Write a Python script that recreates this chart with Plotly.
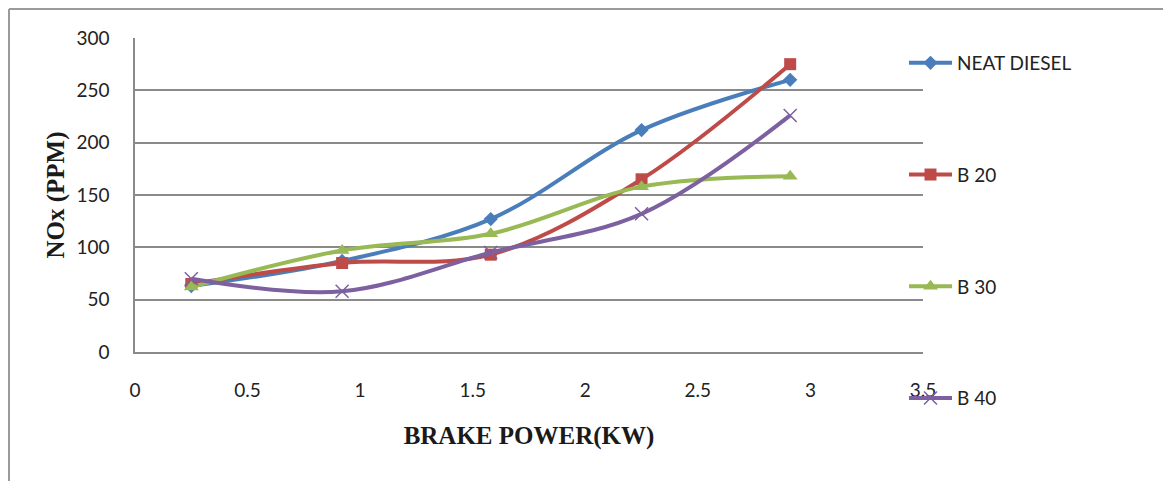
import plotly.graph_objects as go

brake_power = [0.25, 0.92, 1.58, 2.25, 2.91]
neat_diesel = [63, 87, 127, 212, 260]
b20 = [65, 85, 93, 165, 275]
b30 = [62, 97, 113, 158, 168]
b40 = [70, 58, 95, 132, 226]

series = [
    ("NEAT DIESEL", neat_diesel, "#4A7EBB", "diamond", 11),
    ("B 20", b20, "#BE4B48", "square", 12),
    ("B 30", b30, "#98B954", "triangle-up", 13),
    ("B 40", b40, "#7D60A0", "x-thin", 13),
]

fig = go.Figure()
for i, (name, vals, col, sym, sz) in enumerate(series):
    marker = dict(symbol=sym, size=sz, color=col)
    if sym == "x-thin":
        marker["line"] = dict(width=1.5, color=col)
    fig.add_trace(go.Scatter(
        x=brake_power, y=vals, name=name, mode="lines+markers",
        line=dict(color=col, width=4, shape="spline", smoothing=1),
        marker=marker, legendgroup=f"g{i}",
    ))

# page has an 8px body offset: plot area spans page x 135..923, y 38..352
L, T, B, R = 127, 30, 137, 256
PW = 1171 - L - R
PH = 481 - T - B

title_font = dict(family="Liberation Serif", size=25, color="#1a1a1a")

fig.update_layout(
    width=1171, height=481,
    margin=dict(l=L, r=R, t=T, b=B),
    paper_bgcolor="white", plot_bgcolor="white",
    font=dict(family="Lato, Open Sans, sans-serif", size=19, color="#222"),
    showlegend=True,
    legend=dict(x=(904 - 135) / PW, y=0.981, xanchor="left", yanchor="top",
                tracegroupgap=84, font=dict(size=19, color="#222"),
                bgcolor="rgba(0,0,0,0)", maxheight=470, itemwidth=43),
    xaxis=dict(range=[0, 3.5], dtick=0.5, showgrid=False, zeroline=False,
               showline=True, linecolor="#8a8a8a", linewidth=1.5,
               ticks="", ticklabelstandoff=20,
               title=dict(text="<b>BRAKE POWER(KW)</b>", font=title_font, standoff=27)),
    yaxis=dict(range=[0, 300], dtick=50, showgrid=True, gridcolor="#8a8a8a", gridwidth=1.5,
               zeroline=False, showline=True, linecolor="#8a8a8a", linewidth=1.5,
               ticks="", ticklabelstandoff=20,
               title=dict(text="<b>NOx (PPM)</b>", font=title_font, standoff=5)),
)

# outer chart border (left and top edges visible)
fig.add_shape(type="line", xref="paper", yref="paper",
              x0=-(L - 1) / PW, x1=(1171 - L + 20) / PW,
              y0=1 + (T - 1) / PH, y1=1 + (T - 1) / PH,
              line=dict(color="#9a9a9a", width=2), layer="below")
fig.add_shape(type="line", xref="paper", yref="paper",
              x0=-(L - 1) / PW, x1=-(L - 1) / PW,
              y0=1 + (T - 1) / PH, y1=-(B + 20) / PH,
              line=dict(color="#9a9a9a", width=2), layer="below")

fig.write_html("out.html")
